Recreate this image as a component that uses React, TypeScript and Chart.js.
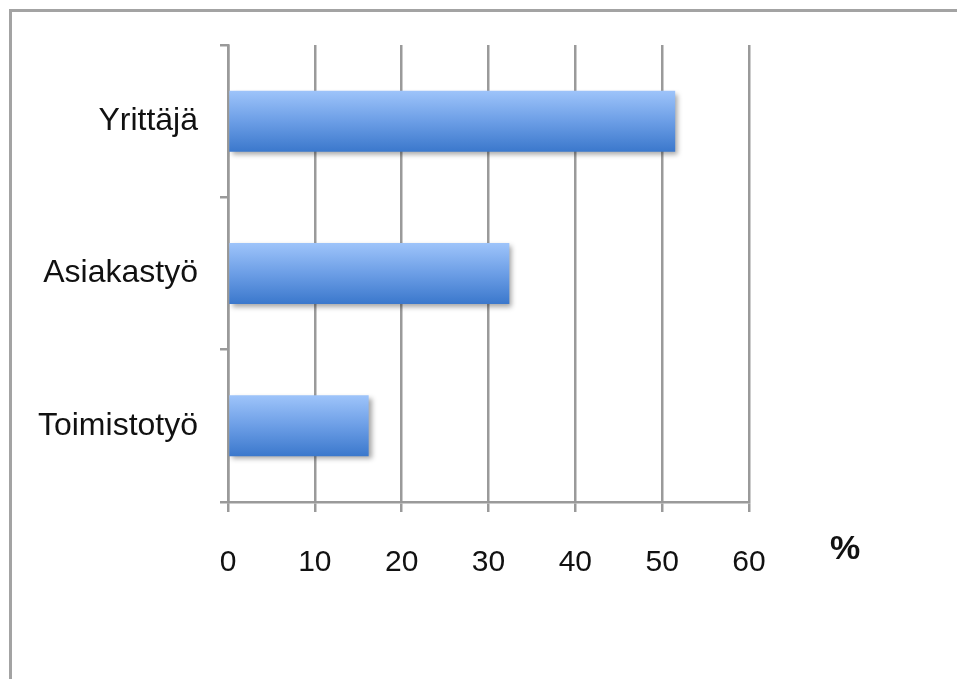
import React, { useEffect, useRef } from "react";
import { Chart, registerables } from "chart.js";

Chart.register(...registerables);

const categories = ["Yrittäjä", "Asiakastyö", "Toimistotyö"];
const values = [51.5, 32.4, 16.2];
const xMin = 0;
const xMax = 60;
const xStep = 10;
const unitLabel = "%";

const gridColor = "#9a9a9a";
const barPct = 0.4;
const fontFamily = "'Liberation Sans', Arial, Helvetica, sans-serif";

function barGradient(context: any) {
  const chart = context.chart;
  const area = chart.chartArea;
  const yScale = chart.scales && chart.scales.y;
  if (!area || !yScale) return "#6c9ee6";
  const center = yScale.getPixelForValue(context.dataIndex);
  const half = ((area.bottom - area.top) / categories.length) * barPct / 2;
  const g = chart.ctx.createLinearGradient(0, center - half, 0, center + half);
  g.addColorStop(0, "#9ec4fa");
  g.addColorStop(0.5, "#6c9ee6");
  g.addColorStop(1, "#3b78cc");
  return g;
}

const barStylePlugin = {
  id: "barStyle",
  beforeDatasetDraw(chart: any) {
    const ctx = chart.ctx;
    ctx.save();
    ctx.shadowColor = "rgba(0,0,0,0.35)";
    ctx.shadowBlur = 5;
    ctx.shadowOffsetX = 3;
    ctx.shadowOffsetY = 3;
  },
  afterDatasetDraw(chart: any) {
    chart.ctx.restore();
  },
  afterDraw(chart: any) {
    const ctx = chart.ctx;
    const area = chart.chartArea;
    ctx.save();
    ctx.font = "bold 34px " + fontFamily;
    ctx.fillStyle = "#111";
    ctx.textAlign = "center";
    ctx.textBaseline = "middle";
    ctx.fillText(unitLabel, area.right + 96, area.bottom + 48);
    ctx.restore();
  },
};

export default function App() {
  const ref = useRef<HTMLCanvasElement | null>(null);
  useEffect(() => {
    if (!ref.current) return;
    const chart = new Chart(ref.current, {
      type: "bar",
      data: {
        labels: categories,
        datasets: [
          {
            data: values,
            backgroundColor: barGradient,
            borderWidth: 0,
            barPercentage: barPct,
            categoryPercentage: 1,
          },
        ],
      },
      plugins: [barStylePlugin],
      options: {
        indexAxis: "y",
        animation: false,
        responsive: false,
        maintainAspectRatio: false,
        layout: { padding: { top: 45, right: 208, left: 0, bottom: 0 } },
        plugins: {
          legend: { display: false },
          tooltip: { enabled: false },
        },
        scales: {
          x: {
            min: xMin,
            max: xMax,
            afterFit: (s: any) => {
              s.height = 177;
            },
            ticks: {
              stepSize: xStep,
              color: "#111",
              padding: 33,
              font: { family: fontFamily, size: 30 },
            },
            grid: {
              color: gridColor,
              lineWidth: 2.5,
              tickLength: 10,
              drawTicks: true,
            },
            border: { display: true, color: gridColor, width: 2.5 },
          },
          y: {
            afterFit: (s: any) => {
              s.width = 228;
            },
            ticks: {
              color: "#111",
              padding: 22,
              font: { family: fontFamily, size: 32 },
            },
            grid: {
              offset: true,
              drawOnChartArea: false,
              drawTicks: true,
              tickLength: 8,
              color: gridColor,
              lineWidth: 2.5,
            },
            border: { display: true, color: gridColor, width: 2.5 },
          },
        },
      },
    });
    return () => chart.destroy();
  }, []);
  return (
    <div style={{ position: "fixed", left: 0, top: 0, width: 957, height: 679, background: "#fff" }}>
      <canvas ref={ref} width={957} height={679} style={{ position: "absolute", left: 0, top: 0 }} />
      <div
        style={{
          position: "absolute",
          left: 9,
          top: 9,
          width: 960,
          height: 700,
          borderTop: "3px solid #a3a3a3",
          borderLeft: "3px solid #a3a3a3",
          pointerEvents: "none",
        }}
      />
    </div>
  );
}
